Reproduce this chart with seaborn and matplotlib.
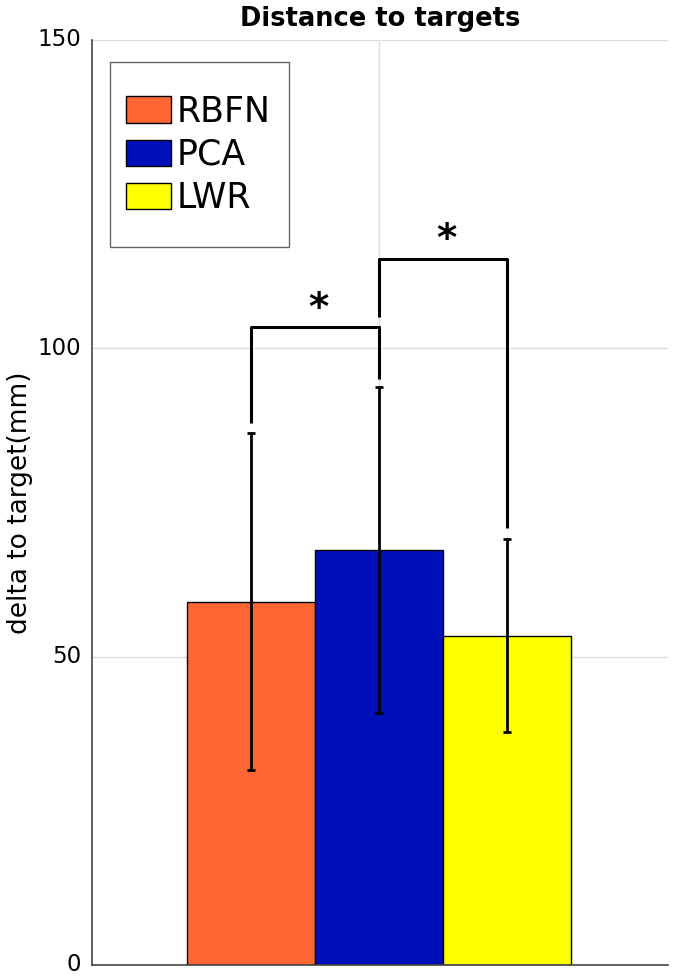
import numpy as np
import pandas as pd
import matplotlib
matplotlib.use("Agg")
import matplotlib.pyplot as plt
from matplotlib.patches import Patch, Rectangle
import seaborn as sns

# ------------------------------------------------------------
# Data
# ------------------------------------------------------------
methods = ["RBFN", "PCA", "LWR"]
mean_delta = [58.9, 67.3, 53.4]
sd_delta = [27.3, 26.4, 15.7]
bar_colors = ["#FF6633", "#0010B8", "#FFFF00"]

# significance brackets: (left idx, right idx, bracket height, left leg end, right leg end, star y)
brackets = [
    (0, 1, 103.4, 87.9, 95.0, 106.4),
    (1, 2, 114.5, 105.1, 70.9, 117.5),
]

sns.set_style("white")
plt.rcParams["font.family"] = ["DejaVu Sans"]
plt.rcParams["text.color"] = "black"
plt.rcParams["axes.labelcolor"] = "black"

df = pd.DataFrame({"method": methods, "delta": mean_delta})

fig = plt.figure(figsize=(6.73, 9.77), dpi=100)
ax = fig.add_axes([0.1367, 0.0123, 0.856, 0.9468])

sns.barplot(
    data=df, x="method", y="delta", hue="method",
    palette=bar_colors, saturation=1, width=1.0, edgecolor="black", linewidth=1.0,
    errorbar=None, legend=False, ax=ax, zorder=2,
)

xpos = np.arange(len(methods))
ax.errorbar(xpos, mean_delta, yerr=sd_delta, fmt="none", ecolor="black",
            elinewidth=2.0, capsize=3, capthick=2.0, zorder=3)

for i, j, h, yl, yr, ys in brackets:
    ax.plot([xpos[i], xpos[i], xpos[j], xpos[j]], [yl, h, h, yr],
            color="black", lw=2.2, zorder=4, solid_capstyle="butt")
    ax.text((xpos[i] + xpos[j]) / 2 + 0.03, ys, "*", ha="center", va="center",
            fontsize=28, fontweight="bold", color="black")

ax.set_xlim(-1.242, 3.258)
ax.set_ylim(0, 150)
ax.set_yticks([0, 50, 100, 150])
ax.set_xticks([1])
ax.set_xticklabels([""])
ax.grid(True, color="#dddddd", lw=1.0, zorder=0)
ax.set_axisbelow(True)
ax.tick_params(axis="y", labelsize=16.5, length=0, pad=8, colors="black")
ax.tick_params(axis="x", length=0)
for lbl in ax.get_yticklabels():
    lbl.set_verticalalignment("center")
ax.set_xlabel("")
ax.set_ylabel("delta to target(mm)", fontsize=19, labelpad=3)
ax.set_title("Distance to targets", fontsize=18.5, fontweight="bold", pad=10)

for side in ["top", "right"]:
    ax.spines[side].set_visible(False)
for side in ["left", "bottom"]:
    ax.spines[side].set_color("#444444")
    ax.spines[side].set_linewidth(1.2)

# legend box drawn separately (MATLAB style: loose vertical padding)
ax.add_patch(Rectangle((0.03125, 0.7762), 0.3108, 0.2, transform=ax.transAxes,
                       facecolor="white", edgecolor="#666666", lw=1.0, zorder=5))
handles = [Patch(facecolor=c, edgecolor="black", label=m) for m, c in zip(methods, bar_colors)]
leg = ax.legend(handles=handles, loc="upper left", bbox_to_anchor=(0.059, 0.941),
                fontsize=25, frameon=False,
                handlelength=1.3, handleheight=0.78, handletextpad=0.17,
                labelspacing=0.27, borderpad=0, borderaxespad=0)
leg.set_zorder(6)

fig.savefig("out.png", dpi=100)
